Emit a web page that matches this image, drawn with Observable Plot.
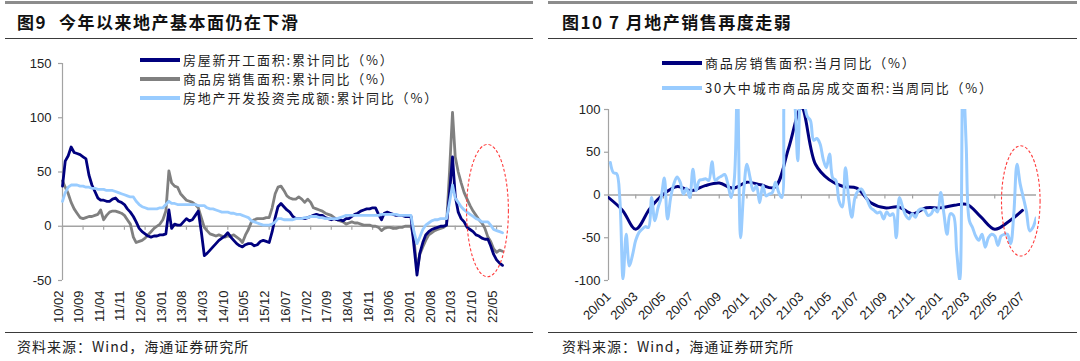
<!DOCTYPE html>
<html><head><meta charset="utf-8">
<script src="https://cdn.jsdelivr.net/npm/d3@7"></script>
<script src="https://cdn.jsdelivr.net/npm/@observablehq/plot@0.6"></script>
<style>
html,body{margin:0;padding:0;background:#fff;}
body{width:1080px;height:361px;overflow:hidden;position:relative;font-family:"Noto Sans CJK SC","Noto Sans",sans-serif;color:#1a1a1a;}
.bar{position:absolute;top:1px;height:3px;background:#8c8c8c;}
.rule{position:absolute;height:1px;background:#3a3a3a;}
.title{position:absolute;top:10px;height:24px;line-height:24px;font-size:17px;font-weight:bold;letter-spacing:1.5px;white-space:nowrap;color:#111;}
.caption{position:absolute;top:336px;height:20px;line-height:20px;font-size:14px;letter-spacing:1px;white-space:nowrap;color:#222;}
.leg{position:absolute;height:18px;line-height:18px;font-size:13px;letter-spacing:1.8px;white-space:nowrap;color:#222;display:flex;align-items:center;}
.sw{display:inline-block;width:40px;height:3.5px;margin-right:3px;}
.chart{position:absolute;top:40px;}
</style>
</head><body>
<div class="bar" style="left:5px;width:528px"></div>
<div class="bar" style="left:548px;width:529px"></div>
<div class="title" style="left:17px">图9<span style="margin-left:12px">今年以来地产基本面仍在下滑</span></div>
<div class="title" style="left:562px">图10 7 月地产销售再度走弱</div>
<div class="rule" style="left:5px;width:528px;top:38px"></div>
<div class="rule" style="left:548px;width:529px;top:38px"></div>
<div id="left" class="chart" style="left:0px"></div>
<div id="right" class="chart" style="left:540px"></div>
<div class="rule" style="left:5px;width:528px;top:332px"></div>
<div class="rule" style="left:548px;width:529px;top:332px"></div>
<div class="caption" style="left:17px">资料来源：Wind，海通证券研究所</div>
<div class="caption" style="left:562px">资料来源：Wind，海通证券研究所</div>
<div id="legL"></div>
<div id="legR"></div>
<script>
// ---------------- Left chart data (monthly, 2010-02 .. 2022-07) ----------------
const leftSeriesNames = ["房屋新开工面积:累计同比（%）","商品房销售面积:累计同比（%）","房地产开发投资完成额:累计同比（%）"];
const newStartCum = [
37,60,65,73,68,67,66,64,62,47,
38,32,26,24,24,23,23,25,26,23,
22,20,16,13,9,4,-2,-5,-7,-9,
-10,-9,-9,-8,-8,-7,15,-2,2,1,
1,4,7,5,6,10,14,-5,-27,-25,
-22,-19,-16,-13,-11,-9,-6,-10,-13,-16,
-18,-19,-17,-16,-16,-18,-17,-14,-13,-14,
-15,-5,8,18,21,18,15,13,9,7,
7,7,7,8,9,10,11,10,10,8,
7,6,7,6,6,5,7,7,9,11,
12,14,15,16,16,17,17,11,6,12,
13,12,11,10,10,10,9,9,9,-18,
-45,-25,-15,-8,-5,-3,-2,-1,0,0,
1,30,64,28,13,7,4,-1,-3,-5,
-8,-9,-11,-12,-12,-18,-26,-31,-34,-36];
const salesAreaCum = [
42,36,30,22,16,12,8,7,8,9,
9,10,11,15,6,10,13,14,14,13,
12,10,6,2,-10,-15,-14,-13,-11,-8,
-5,-2,0,2,6,14,51,40,37,36,
30,27,24,23,22,20,17,8,-1,-4,
-7,-8,-9,-8,-9,-10,-9,-9,-8,-10,
-12,-15,-8,-3,4,6,7,7,7,8,
8,17,30,36,37,33,28,26,25,25,
27,25,22,25,22,17,16,15,14,12,
11,10,8,6,5,4,2,3,4,3,
3,2,1,1,1,0,0,-1,-4,-2,
-1,-1,-2,-2,-1,-1,0,0,0,-12,
-40,-26,-19,-13,-8,-6,-4,-3,-2,-1,
1,50,105,64,50,40,31,25,19,14,
10,6,3,-2,-10,-14,-21,-24,-22,-23];
const investCum = [
23,31,36,38,38,38,37,37,36,36,
35,35,34,34,34,33,33,33,32,31,
30,29,28,27,27,23,20,18,17,16,
16,16,16,17,17,20,23,21,21,20,
20,20,20,20,20,20,19,19,19,17,
16,16,15,14,13,13,13,12,12,11,
11,10,9,8,5,4,3,2,1,1,
1,2,4,7,7,6,6,6,6,7,
7,7,8,8,9,9,9,8,8,7,
7,7,7,7,8,9,10,10,10,10,
10,10,10,10,10,10,10,10,11,11,
11,11,11,11,10,10,10,10,10,-5,
-16,-10,-3,1,3,5,6,6,7,7,
7,22,38,26,22,18,15,13,11,9,
7,6,4,4,4,1,-3,-4,-5,-6];
const leftTickLabels = ["10/02","10/09","11/04","11/11","12/06","13/01","13/08","14/03","14/10","15/05","15/12","16/07","17/02","17/09","18/04","18/11","19/06","20/01","20/08","21/03","21/10","22/05"];
const leftYTicks = [-50,0,50,100,150];
const leftEllipse = {x1:"2021-07-01", x2:"2022-09-05", y1:-47, y2:75};

// ---------------- Right chart data ----------------
const rightSeriesNames = ["商品房销售面积:当月同比（%）","30大中城市商品房成交面积:当周同比（%）"];
// monthly 2020-01 .. 2022-07
const salesMonthly = [-3,-18,-40,-16,1,10,5,11,14,8,15,12,9,55,102,36,18,10,8,-9,-15,-14,-22,-15,-15,-12,-11,-26,-40,-31,-18];
// weekly, first week ending 2020-01-05
const city30Weekly = [
38,26,25,-5,-98,-46,-83,-70,-53,-44,
-40,-37,-38,-3,-30,-15,-3,20,-28,-3,
13,21,15,1,8,-3,30,5,17,18,
19,17,39,17,20,22,24,13,-3,17,
130,-50,5,36,20,5,11,-9,11,-1,
1,3,15,3,-3,140,150,130,110,40,
140,110,92,87,64,66,60,42,32,48,
20,17,-7,-14,32,-3,-26,-3,5,7,
1,-7,-15,-18,-21,-20,-28,-20,-24,-22,
-50,-3,-14,-24,-28,-22,-26,-18,-16,-18,
-24,-22,-16,-20,3,-22,-46,-22,-24,-65,
-100,140,60,-30,-38,-48,-53,-46,-61,-50,
-46,-48,-59,-48,-46,-46,-57,-22,36,13,
-3,-20,-42,-38,-27];
const rightTickLabels = ["20/01","20/03","20/05","20/07","20/09","20/11","21/01","21/03","21/05","21/07","21/09","21/11","22/01","22/03","22/05","22/07"];
const rightYTicks = [-100,-50,0,50,100];
const rightEllipse = {x1:"2022-05-17", x2:"2022-08-10", y1:-72, y2:57};

// ---------------- styles ----------------
const C_DARK = "#00007e", C_GRAY = "#808080", C_LIGHT = "#99ccff", C_AXIS = "#a3a3a3", C_TEXT = "#222";
const NUMFONT = "'Liberation Sans', Arial, sans-serif";

const labelDate = s => new Date(Date.UTC(2000 + +s.slice(0,2), +s.slice(3) - 1, 1));

function ellipseMark(box) {
  return (index, scales) => {
    const x1 = scales.x(new Date(box.x1)), x2 = scales.x(new Date(box.x2));
    const y1 = scales.y(box.y1), y2 = scales.y(box.y2);
    const e = document.createElementNS("http://www.w3.org/2000/svg", "ellipse");
    e.setAttribute("cx", (x1 + x2) / 2);
    e.setAttribute("cy", (y1 + y2) / 2);
    e.setAttribute("rx", Math.abs(x2 - x1) / 2);
    e.setAttribute("ry", Math.abs(y2 - y1) / 2);
    e.setAttribute("fill", "none");
    e.setAttribute("stroke", "#ff3c3c");
    e.setAttribute("stroke-width", "1.1");
    e.setAttribute("stroke-dasharray", "3,2");
    return e;
  };
}

// ---------------- Left chart ----------------
const leftMonths = d3.utcMonth.range(new Date(Date.UTC(2010,1,1)), new Date(Date.UTC(2022,7,1)));
const leftRows = leftMonths.map((date, i) => ({date, a: newStartCum[i], b: salesAreaCum[i], c: investCum[i]}));
const leftTicks = leftTickLabels.map(labelDate);
const leftStart = leftMonths[0];

const left = Plot.plot({
  width: 540, height: 290,
  marginLeft: 62, marginRight: 38, marginTop: 23, marginBottom: 50,
  x: {type: "utc", domain: [leftStart, leftMonths[leftMonths.length - 1]], axis: null},
  y: {domain: [-50, 150], axis: null},
  style: {fontFamily: NUMFONT, fontSize: "13px", color: C_TEXT, background: "transparent", overflow: "visible"},
  marks: [
    Plot.ruleX([leftStart], {x: d => d, stroke: C_AXIS, strokeWidth: 1.2}),
    Plot.ruleY(leftYTicks, {y: d => d, x1: leftStart, x2: leftStart, insetLeft: -4, stroke: C_AXIS, strokeWidth: 1.2}),
    Plot.text(leftYTicks, {y: d => d, frameAnchor: "left", text: d => String(d), textAnchor: "end", dx: -11, fill: C_TEXT, fontSize: 13}),
    Plot.ruleY([0], {stroke: C_AXIS, strokeWidth: 1.5}),
    Plot.ruleX(leftTicks, {x: d => d, y1: 0, y2: 0, insetBottom: -4, stroke: C_AXIS, strokeWidth: 1.2}),
    Plot.text(leftTicks, {x: d => d, frameAnchor: "bottom", text: (d, i) => leftTickLabels[i], rotate: -90, textAnchor: "end", dy: 10, fill: C_TEXT, fontSize: 13}),
    Plot.line(leftRows, {x: "date", y: "b", stroke: C_GRAY, strokeWidth: 2.8, strokeLinejoin: "round"}),
    Plot.line(leftRows, {x: "date", y: "a", stroke: C_DARK, strokeWidth: 2.8, strokeLinejoin: "round"}),
    Plot.line(leftRows, {x: "date", y: "c", stroke: C_LIGHT, strokeWidth: 2.8, strokeLinejoin: "round"}),
    ellipseMark(leftEllipse)
  ]
});
document.getElementById("left").appendChild(left);

// ---------------- Right chart ----------------
const rightMonths = d3.utcMonth.range(new Date(Date.UTC(2020,0,1)), new Date(Date.UTC(2022,7,1)));
const monthlyRows = rightMonths.map((date, i) => ({date, v: salesMonthly[i]}));
const weekStart = new Date(Date.UTC(2020,0,5));
const weeklyRows = city30Weekly.map((v, i) => ({date: d3.utcDay.offset(weekStart, 7 * i), v}));
const rightTicks = rightTickLabels.map(labelDate);
const rightStart = new Date(Date.UTC(2020,0,1));

const right = Plot.plot({
  width: 540, height: 290,
  marginLeft: 68, marginRight: 44, marginTop: 69, marginBottom: 50,
  x: {type: "utc", domain: [rightStart, new Date(Date.UTC(2022,7,1))], axis: null},
  y: {domain: [-100, 100], axis: null},
  style: {fontFamily: NUMFONT, fontSize: "13px", color: C_TEXT, background: "transparent", overflow: "visible"},
  marks: [
    Plot.ruleX([rightStart], {x: d => d, stroke: C_AXIS, strokeWidth: 1.2}),
    Plot.ruleY(rightYTicks, {y: d => d, x1: rightStart, x2: rightStart, insetLeft: -4, stroke: C_AXIS, strokeWidth: 1.2}),
    Plot.text(rightYTicks, {y: d => d, frameAnchor: "left", text: d => String(d), textAnchor: "end", dx: -8, fill: C_TEXT, fontSize: 13}),
    Plot.ruleY([0], {stroke: C_AXIS, strokeWidth: 1.5}),
    Plot.ruleX(rightTicks, {x: d => d, y1: 0, y2: 0, insetBottom: -4, stroke: C_AXIS, strokeWidth: 1.2}),
    Plot.text(rightTicks, {x: d => d, frameAnchor: "bottom", text: (d, i) => rightTickLabels[i], rotate: -45, textAnchor: "end", dx: 3, dy: 17, fill: C_TEXT, fontSize: 13}),
    Plot.line(monthlyRows, {x: "date", y: "v", stroke: C_DARK, strokeWidth: 3, curve: "catmull-rom", clip: true}),
    Plot.line(weeklyRows, {x: "date", y: "v", stroke: C_LIGHT, strokeWidth: 3, curve: "catmull-rom", clip: true, strokeLinejoin: "round"}),
    ellipseMark(rightEllipse)
  ]
});
document.getElementById("right").appendChild(right);

// ---------------- Legends ----------------
function legend(containerId, names, colors, x, ys) {
  const c = document.getElementById(containerId);
  names.forEach((n, i) => {
    const row = document.createElement("div");
    row.className = "leg";
    row.style.left = x + "px";
    row.style.top = (ys[i] - 9) + "px";
    const sw = document.createElement("span");
    sw.className = "sw";
    sw.style.background = colors[i];
    row.appendChild(sw);
    const t = document.createElement("span");
    t.textContent = n;
    row.appendChild(t);
    c.appendChild(row);
  });
}
legend("legL", leftSeriesNames, [C_DARK, C_GRAY, C_LIGHT], 140, [60, 79, 98]);
legend("legR", rightSeriesNames, [C_DARK, C_LIGHT], 662, [63, 88]);
</script>
</body></html>
